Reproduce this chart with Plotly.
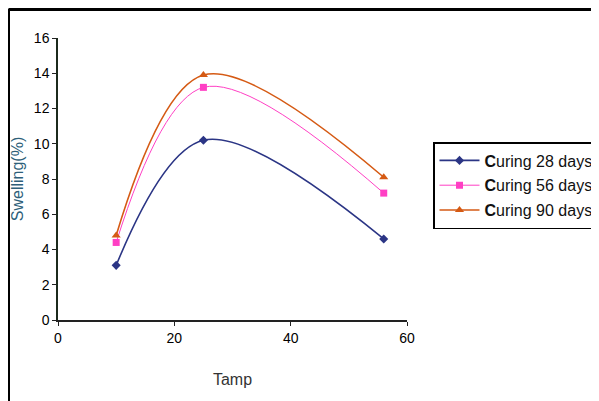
import plotly.graph_objects as go

temps = [10, 25, 56]
curing_28 = [3.1, 10.2, 4.6]
curing_56 = [4.4, 13.2, 7.2]
curing_90 = [4.8, 13.9, 8.1]
series_names = ["<b>C</b>uring 28 days", "<b>C</b>uring 56 days", "<b>C</b>uring 90 days"]
x_ticks = [0, 20, 40, 60]
y_ticks = [0, 2, 4, 6, 8, 10, 12, 14, 16]

fig = go.Figure()
styles = [
    (curing_28, "#2b3585", "diamond", 7, 1.6),
    (curing_56, "#ff3fc4", "square", 7, 1.0),
    (curing_90, "#d55a14", "triangle-up", 8, 1.6),
]
for i, (vals, col, sym, ms, lw) in enumerate(styles):
    fig.add_trace(go.Scatter(
        x=temps, y=vals, name=series_names[i], mode="lines+markers",
        line=dict(color=col, width=lw, shape="spline", smoothing=1.0),
        marker=dict(color=col, symbol=sym, size=ms),
        legendgroup=f"g{i}",
    ))

# page body has an 8px margin: figure occupies window (8..599, 8..401)
OFF = 8
W, H = 599 - OFF, 401 - OFF
L, T = 58 - OFF, 38 - OFF
R = W - (407 - OFF)
B = H - (320 - OFF)
pw, ph = W - L - R, H - T - B

def px_x(p):
    return (p - OFF - L) / pw

def px_y(p):
    return (H - B - (p - OFF)) / ph

fig.update_layout(
    width=W, height=H,
    margin=dict(l=L, r=R, t=T, b=B, autoexpand=False),
    paper_bgcolor="white", plot_bgcolor="white",
    font=dict(family="Liberation Sans, Arial, sans-serif", color="black", size=12),
    showlegend=True,
    legend=dict(
        x=px_x(433), y=px_y(142), xanchor="left", yanchor="top",
        bordercolor="black", borderwidth=1.5, bgcolor="white",
        font=dict(size=16, color="#111"), tracegroupgap=1,
        itemwidth=40,
    ),
    xaxis=dict(
        range=[0, 60], tickvals=x_ticks, showgrid=False, zeroline=False,
        showline=True, linecolor="#222", linewidth=1.5,
        ticks="outside", ticklen=4, tickcolor="#222",
        tickfont=dict(size=14), automargin=False,
        title=dict(text="Tamp", font=dict(size=16, color="#333"), standoff=29),
    ),
    yaxis=dict(
        range=[0, 16], tickvals=y_ticks, showgrid=False, zeroline=False,
        showline=True, linecolor="#1c2a1c", linewidth=1.5,
        ticks="outside", ticklen=4, tickcolor="#222",
        tickfont=dict(size=14), automargin=False,
        title=dict(text="Swelling(%)", font=dict(size=16, color="#2e5f7a"), standoff=6),
    ),
    shapes=[
        dict(type="line", xref="paper", yref="paper",
             x0=px_x(8.5), x1=px_x(600), y0=px_y(9.5), y1=px_y(9.5),
             line=dict(color="black", width=3)),
        dict(type="line", xref="paper", yref="paper",
             x0=px_x(9), x1=px_x(9), y0=px_y(9), y1=px_y(402),
             line=dict(color="black", width=2)),
    ],
)

fig.write_html("out.html")
